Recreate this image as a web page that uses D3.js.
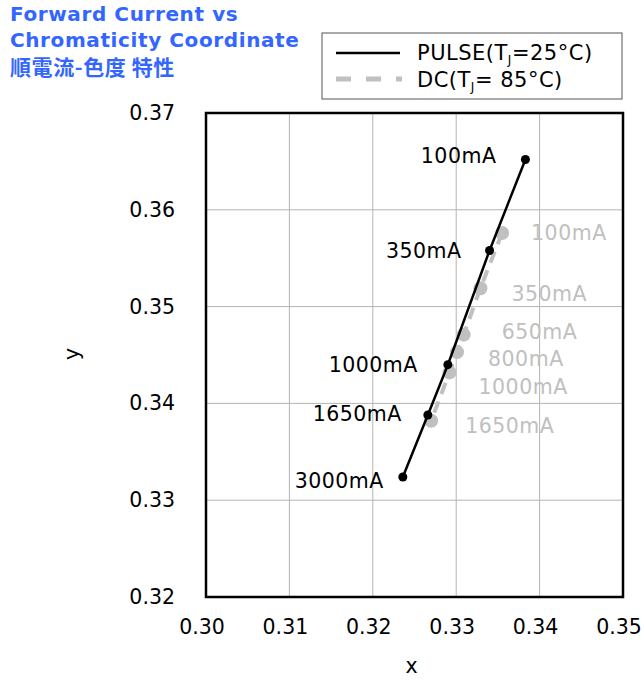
<!DOCTYPE html>
<html>
<head>
<meta charset="utf-8">
<script src="https://cdn.jsdelivr.net/npm/d3@7"></script>
<style>
  body { margin: 0; background: #fff; }
  text { font-family: "DejaVu Sans", Verdana, sans-serif; }
</style>
</head>
<body>
<svg id="chart" width="644" height="681"></svg>
<script>
// pulse series (Tj = 25°C)
var pulseLabels = ["100mA", "350mA", "1000mA", "1650mA", "3000mA"];
var pulseX = [0.3383, 0.3340, 0.3290, 0.3266, 0.3236];
var pulseY = [0.3652, 0.3558, 0.3440, 0.3388, 0.3324];

// dc series (Tj = 85°C)
var dcLabels = ["100mA", "350mA", "650mA", "800mA", "1000mA", "1650mA"];
var dcX = [0.3355, 0.3329, 0.3309, 0.3301, 0.3292, 0.3270];
var dcY = [0.3576, 0.3519, 0.3471, 0.3453, 0.3432, 0.3382];

var xTicks = [0.30, 0.31, 0.32, 0.33, 0.34, 0.35];
var yTicks = [0.32, 0.33, 0.34, 0.35, 0.36, 0.37];

var svg = d3.select("#chart");
var mLeft = 206, mRight = 623, mTop = 113, mBottom = 597;

var x = d3.scaleLinear().domain([0.30, 0.35]).range([mLeft, mRight]);
var y = d3.scaleLinear().domain([0.32, 0.37]).range([mBottom, mTop]);

// grid
svg.append("g").selectAll("line")
    .data(xTicks).enter().append("line")
    .attr("x1", d => x(d)).attr("x2", d => x(d))
    .attr("y1", mTop).attr("y2", mBottom)
    .attr("stroke", "#b4b4b4").attr("stroke-width", 1);
svg.append("g").selectAll("line")
    .data(yTicks).enter().append("line")
    .attr("x1", mLeft).attr("x2", mRight)
    .attr("y1", d => y(d)).attr("y2", d => y(d))
    .attr("stroke", "#b4b4b4").attr("stroke-width", 1);

// axes (labels only)
var xAxis = svg.append("g")
    .attr("transform", "translate(-4.5," + mBottom + ")")
    .call(d3.axisBottom(x).tickValues(xTicks).tickFormat(d3.format(".2f")).tickSize(0).tickPadding(22));
var yAxis = svg.append("g")
    .attr("transform", "translate(" + mLeft + ",0)")
    .call(d3.axisLeft(y).tickValues(yTicks).tickFormat(d3.format(".2f")).tickSize(0).tickPadding(31));
[xAxis, yAxis].forEach(function (g) {
  g.select(".domain").remove();
  g.selectAll("text").attr("font-size", 20.5).attr("fill", "#000")
    .style("font-family", "'DejaVu Sans', Verdana, sans-serif");
});

svg.append("rect")
    .attr("x", mLeft).attr("y", mTop)
    .attr("width", mRight - mLeft).attr("height", mBottom - mTop)
    .attr("fill", "none").attr("stroke", "#000").attr("stroke-width", 2.5);

svg.append("text").attr("x", x(0.325) - 3).attr("y", 673)
    .attr("text-anchor", "middle").attr("font-size", 20.5).text("x");
svg.append("text").attr("transform", "translate(79," + (y(0.345) - 1) + ") rotate(-90)")
    .attr("text-anchor", "middle").attr("font-size", 20.5).text("y");

var line = d3.line().x(d => x(d[0])).y(d => y(d[1]));

// DC series
var dcPts = dcX.map((v, i) => [v, dcY[i]]);
svg.append("path").datum(dcPts).attr("d", line)
    .attr("fill", "none").attr("stroke", "#c0c0c0")
    .attr("stroke-width", 4).attr("stroke-dasharray", "12,8");
svg.selectAll("circle.dc").data(dcPts).enter().append("circle")
    .attr("class", "dc")
    .attr("cx", d => x(d[0])).attr("cy", d => y(d[1])).attr("r", 7)
    .attr("fill", "#c0c0c0");

// pulse series
var pulsePts = pulseX.map((v, i) => [v, pulseY[i]]);
svg.append("path").datum(pulsePts).attr("d", line)
    .attr("fill", "none").attr("stroke", "#000").attr("stroke-width", 2.5);
svg.selectAll("circle.pulse").data(pulsePts).enter().append("circle")
    .attr("class", "pulse")
    .attr("cx", d => x(d[0])).attr("cy", d => y(d[1])).attr("r", 4.5)
    .attr("fill", "#000");

// point labels
var pulseOff = [[-29, 4], [-28, 8], [-30, 7], [-26, 6], [-19, 11]];
svg.selectAll("text.pl").data(pulsePts).enter().append("text")
    .attr("class", "pl")
    .attr("x", (d, i) => x(d[0]) + pulseOff[i][0])
    .attr("y", (d, i) => y(d[1]) + pulseOff[i][1])
    .attr("text-anchor", "end").attr("font-size", 20.5).attr("letter-spacing", 0.5)
    .attr("fill", "#000")
    .text((d, i) => pulseLabels[i]);

var dcOff = [[29, 7], [31, 13], [38, 4], [31, 14], [29, 22], [34, 12]];
svg.selectAll("text.dl").data(dcPts).enter().append("text")
    .attr("class", "dl")
    .attr("x", (d, i) => x(d[0]) + dcOff[i][0])
    .attr("y", (d, i) => y(d[1]) + dcOff[i][1])
    .attr("text-anchor", "start").attr("font-size", 20.5).attr("letter-spacing", 0.5)
    .attr("fill", "#c0c0c0")
    .text((d, i) => dcLabels[i]);

// title
var title = svg.append("g").attr("fill", "#3366ff").attr("font-weight", "bold");
title.append("text").attr("x", 10).attr("y", 21).attr("font-size", 20).attr("letter-spacing", 0.6).text("Forward Current vs");
title.append("text").attr("x", 10).attr("y", 47).attr("font-size", 20).attr("letter-spacing", 0.6).text("Chromaticity Coordinate");
title.append("text").attr("x", 10).attr("y", 75).attr("font-size", 21).attr("letter-spacing", 0.6)
    .style("font-family", "'Noto Sans CJK JP', sans-serif").text("順電流-色度 特性");

// legend
var lg = svg.append("g");
lg.append("rect").attr("x", 322).attr("y", 33).attr("width", 300).attr("height", 66)
    .attr("fill", "#fff").attr("stroke", "#555").attr("stroke-width", 1);
lg.append("line").attr("x1", 336).attr("x2", 400).attr("y1", 53).attr("y2", 53)
    .attr("stroke", "#000").attr("stroke-width", 2.5);
lg.append("line").attr("x1", 336).attr("x2", 402).attr("y1", 79).attr("y2", 79)
    .attr("stroke", "#c0c0c0").attr("stroke-width", 5).attr("stroke-dasharray", "15,15");
var t1 = lg.append("text").attr("x", 417).attr("y", 60).attr("font-size", 21).attr("letter-spacing", 0.5);
t1.append("tspan").text("PULSE(T");
t1.append("tspan").attr("font-size", 12).attr("dy", 4).text("J");
t1.append("tspan").attr("dy", -4).text("=25°C)");
var t2 = lg.append("text").attr("x", 417).attr("y", 87).attr("font-size", 21).attr("letter-spacing", 0.5);
t2.append("tspan").text("DC(T");
t2.append("tspan").attr("font-size", 12).attr("dy", 4).text("J");
t2.append("tspan").attr("dy", -4).text("= 85°C)");
</script>
</body>
</html>
